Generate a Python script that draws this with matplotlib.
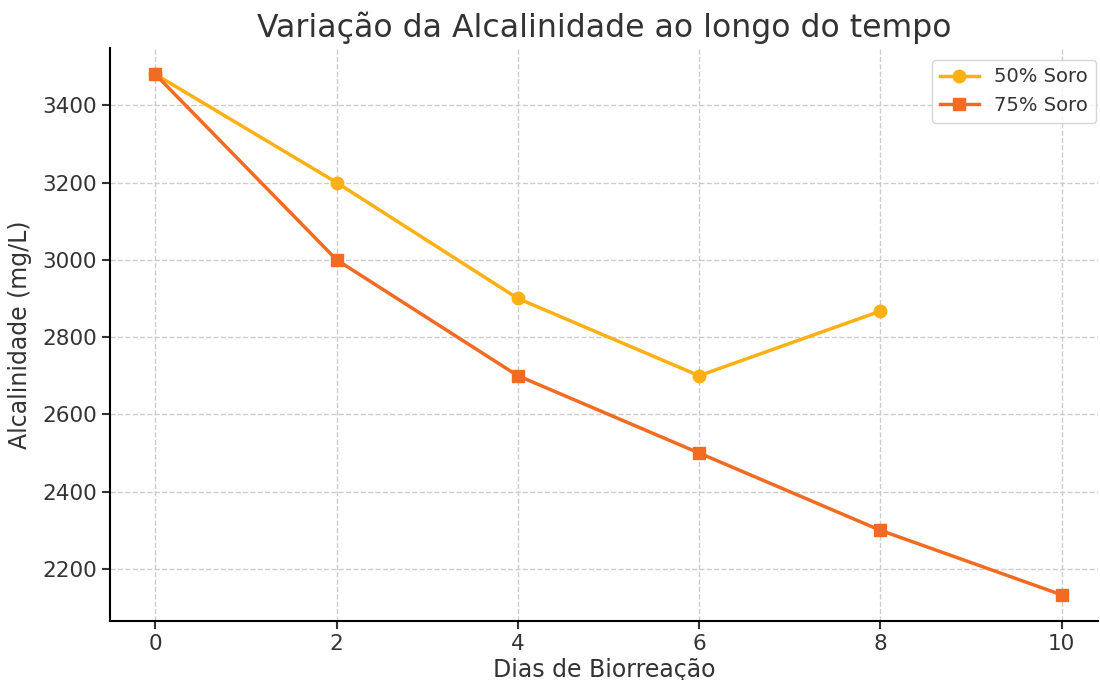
import matplotlib.pyplot as plt

dias_50 = [0, 2, 4, 6, 8]
alc_50 = [3480, 3200, 2900, 2700, 2867]
dias_75 = [0, 2, 4, 6, 8, 10]
alc_75 = [3480, 3000, 2700, 2500, 2300, 2133]

TEXT = "#333333"

fig = plt.figure(figsize=(11, 6.8), dpi=100)
ax = fig.add_axes([0.1, 0.087, 0.898, 0.842])

ax.plot(dias_50, alc_50, "o-", color="#FBB014", lw=2.5, ms=9, label="50% Soro")
ax.plot(dias_75, alc_75, "s-", color="#F26B22", lw=2.5, ms=9, label="75% Soro")

ax.set_xlim(-0.5, 10.4)
ax.set_xticks([0, 2, 4, 6, 8, 10])
ax.set_yticks([2200, 2400, 2600, 2800, 3000, 3200, 3400])
ax.grid(True, ls="--", color="#cccccc", lw=1)
ax.set_axisbelow(True)
for s in ("top", "right"):
    ax.spines[s].set_visible(False)
for s in ("left", "bottom"):
    ax.spines[s].set_linewidth(1.5)
ax.tick_params(labelsize=15.5, colors=TEXT, width=1.5, length=6)

ax.set_title("Variação da Alcalinidade ao longo do tempo", fontsize=22.7, color=TEXT, pad=8)
ax.set_xlabel("Dias de Biorreação", fontsize=17, color=TEXT, labelpad=3)
ax.set_ylabel("Alcalinidade (mg/L)", fontsize=17, color=TEXT, labelpad=7)
ax.legend(loc="upper right", bbox_to_anchor=(1.008, 0.997), fontsize=14,
          labelcolor=TEXT, borderpad=0.4)

fig.savefig("out.png", dpi=100)
